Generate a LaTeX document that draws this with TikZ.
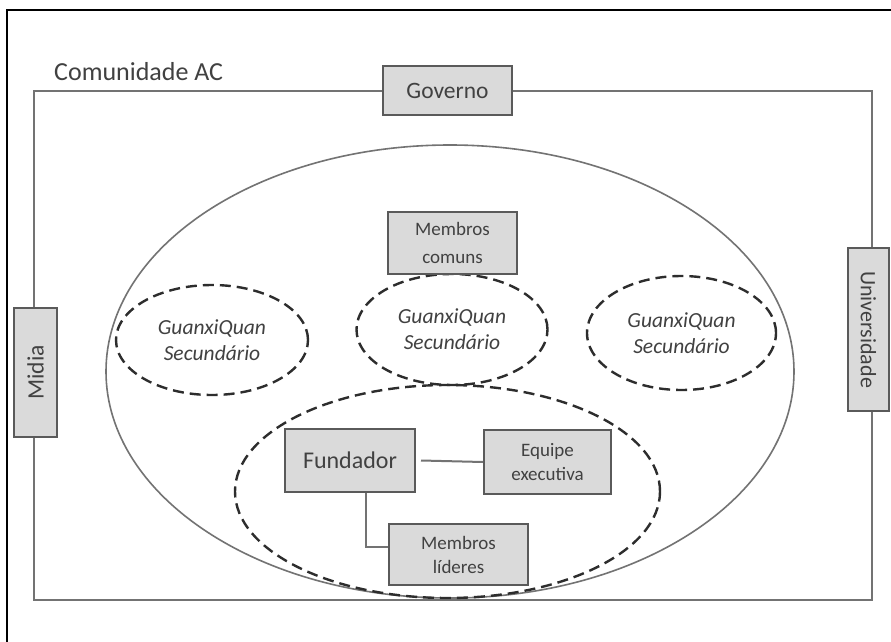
\documentclass[tikz,border=0pt]{standalone}
\usepackage{fontspec}
\setmainfont{Carlito}
\usetikzlibrary{shapes.geometric}
\definecolor{boxfill}{RGB}{218,218,218}
\definecolor{boxline}{RGB}{90,90,90}
\definecolor{txt}{RGB}{65,65,65}
\definecolor{linegray}{RGB}{115,115,115}
\definecolor{dashcol}{RGB}{45,45,45}
\begin{document}
\begin{tikzpicture}[x=1pt,y=-1pt,
  gbox/.style={draw=boxline, line width=2pt, fill=boxfill, text=txt, inner sep=0pt, align=center},
  bigf/.style={font=\fontsize{23.5}{28}\selectfont},
  smallf/.style={font=\fontsize{19}{24}\selectfont},
  gq/.style={ellipse, draw=dashcol, line width=2.4pt, dash pattern=on 11pt off 6pt, inner sep=0pt, text=txt, align=center, font=\fontsize{21.5}{26}\selectfont\itshape},
  conn/.style={draw=linegray, line width=2pt}]
\useasboundingbox (0,0) rectangle (891,642);
\fill[white] (0,0) rectangle (891,642);
% outer frame (cropped)
\draw[line width=1.5pt] (891,10) -- (7,10) -- (7,642);
% community rectangle
\draw[draw=linegray, line width=2pt] (33.5,91) rectangle (872,600);
\node[anchor=west, text=txt, font=\fontsize{26}{30}\selectfont, inner sep=0pt] (com) at (54,72) {Comunidade AC};
% big ellipse
\node[ellipse, draw=linegray, line width=1.6pt, minimum width=688pt, minimum height=453pt, inner sep=0pt] (big) at (450,371.5) {};
% GuanxiQuan ellipses
\node[gq, minimum width=192pt, minimum height=110pt] (gq1) at (212,340) {GuanxiQuan\\Secundário};
\node[gq, minimum width=191pt, minimum height=111pt] (gq2) at (452,329.5) {GuanxiQuan\\Secundário};
\node[gq, minimum width=189pt, minimum height=114pt] (gq3) at (681.5,333) {GuanxiQuan\\Secundário};
% core ellipse
\node[ellipse, draw=dashcol, line width=2.4pt, dash pattern=on 11pt off 6pt, minimum width=425pt, minimum height=213pt, inner sep=0pt] (core) at (447.5,491.5) {};
% outside actors
\node[gbox, bigf, minimum width=129pt, minimum height=49pt] (gov) at (447.5,90.5) {Governo};
\node[gbox, bigf, rotate=90, minimum width=129pt, minimum height=43pt] (midia) at (35.5,372.5) {Midia};
\node[gbox, font=\fontsize{22}{26}\selectfont, rotate=-90, minimum width=163pt, minimum height=41pt] (uni) at (868.5,329.5) {Universidade};
% members
\node[gbox, font=\fontsize{19}{28}\selectfont, minimum width=129pt, minimum height=62pt] (comuns) at (452.5,243) {Membros\\comuns};
\node[gbox, font=\fontsize{24}{28}\selectfont, minimum width=130pt, minimum height=63pt] (fund) at (350,460.5) {Fundador};
\node[gbox, smallf, minimum width=127pt, minimum height=64pt] (equipe) at (547.5,462) {Equipe\\executiva};
\node[gbox, smallf, minimum width=139pt, minimum height=61pt] (lid) at (458.5,554.5) {Membros\\líderes};
% connectors
\draw[conn] ([xshift=5pt]fund.east) -- (equipe.west);
\draw[conn] ([xshift=16pt]fund.south) |- ([yshift=8pt]lid.west);
\end{tikzpicture}
\end{document}
